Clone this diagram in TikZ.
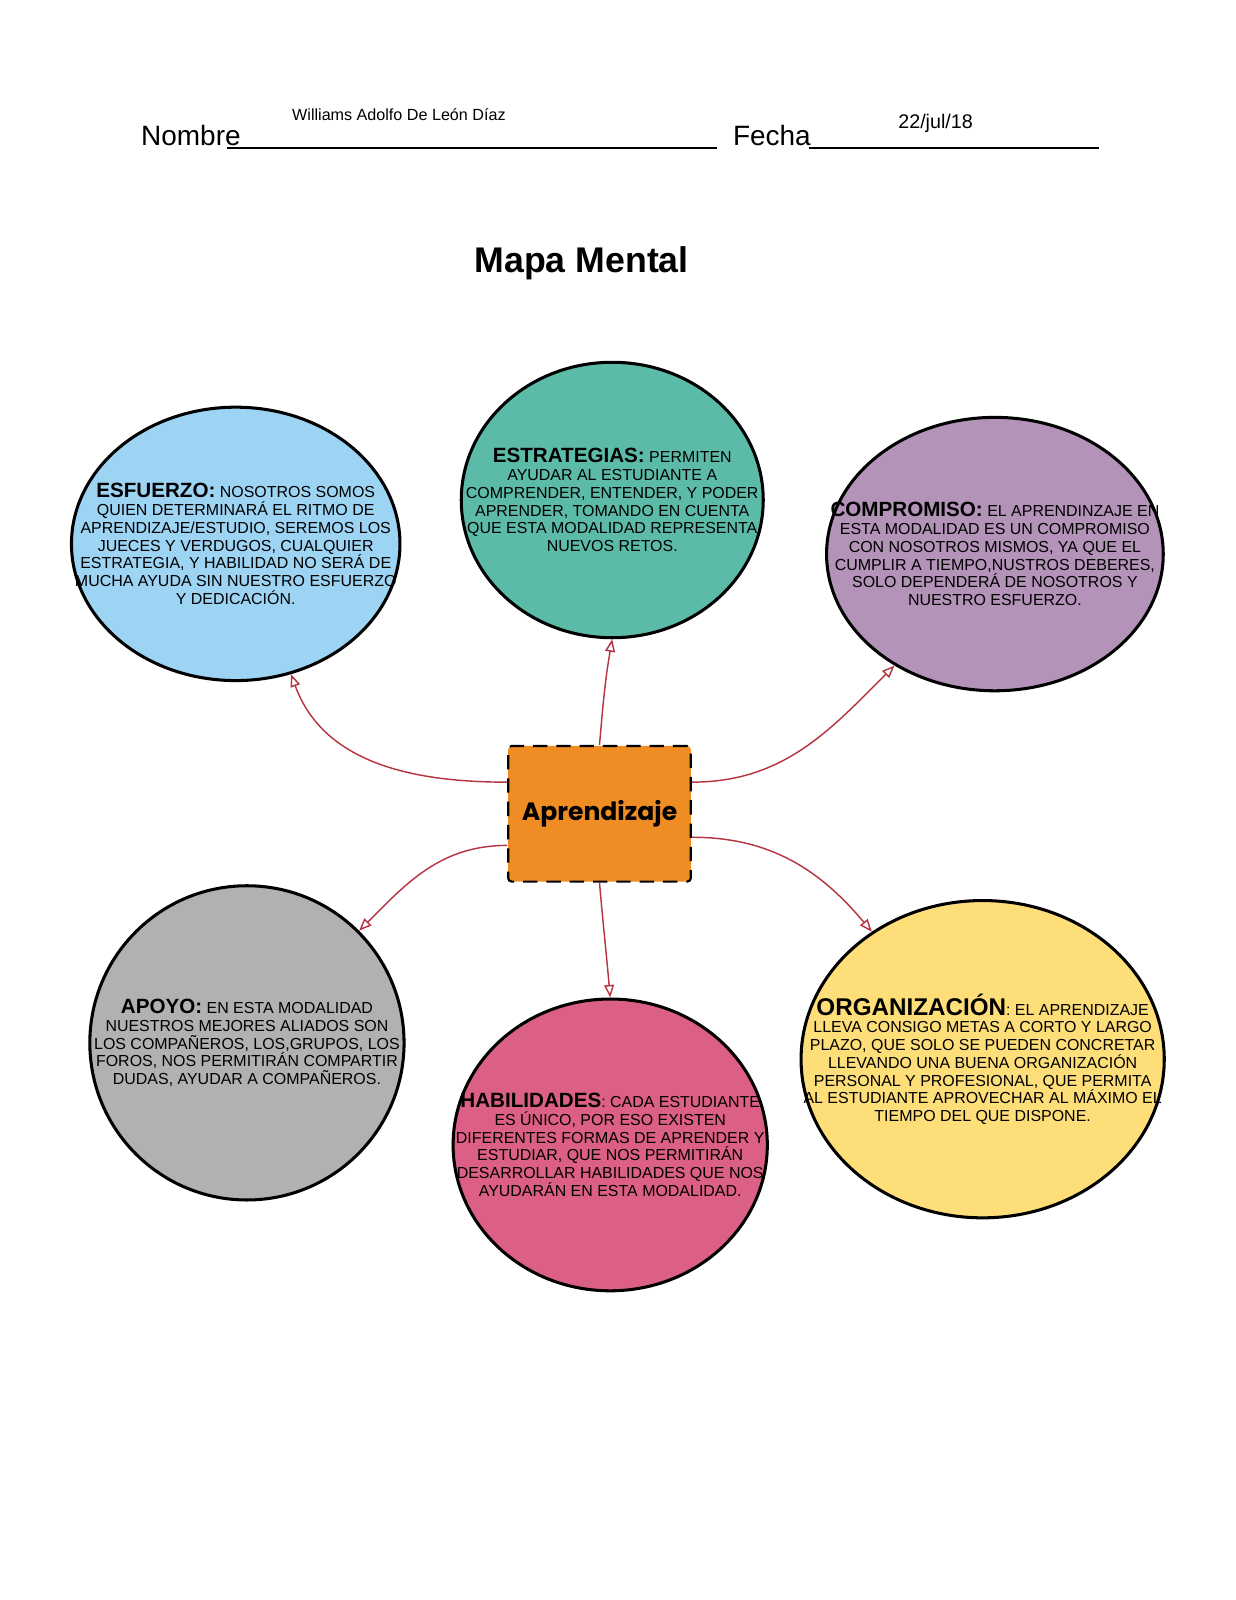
\documentclass[tikz,border=0pt]{standalone}
\usepackage{fontspec}
\setmainfont{Liberation Sans}
\newfontfamily\boxfont{Poppins}
\usetikzlibrary{arrows.meta,shapes.geometric}
\definecolor{sky}{HTML}{9DD3F3}
\definecolor{sea}{HTML}{5CBBA8}
\definecolor{lilac}{HTML}{B393B8}
\definecolor{stone}{HTML}{B1B1B1}
\definecolor{rose}{HTML}{DC5F85}
\definecolor{butter}{HTML}{FEDE78}
\definecolor{amber}{HTML}{EF8C23}
\definecolor{wire}{HTML}{B63441}
\newcommand\bubblehead[1]{{\fontsize{11.5}{11.5}\selectfont\bfseries #1}}

\begin{document}
\begin{tikzpicture}[x=0.02cm,y=-0.02cm,
  bubble/.style={ellipse,draw=black,line width=1.7pt,inner sep=0pt},
  blurb/.style={align=center,font=\fontsize{8.9}{9.9}\selectfont,inner sep=0pt},
  header/.style={anchor=base west,inner sep=0pt},
  link/.style={wire,line width=0.8pt,-{Triangle[open,length=7pt,width=5.5pt]}}]
  \useasboundingbox (0,0) rectangle (1211,1568);
  \fill[white] (0,0) rectangle (1211,1568);
  \node[header,font=\fontsize{15.6}{15.6}\selectfont] (nombre) at (138,143) {Nombre};
  \node[header,font=\fontsize{15.6}{15.6}\selectfont] (fecha) at (718,143) {Fecha};
  \draw[line width=0.8pt] (222,145) -- (703,145);
  \draw[line width=0.8pt] (793,145) -- (1077,145);
  \node[header,font=\fontsize{9}{9}\selectfont] (alumno) at (286,118) {Williams Adolfo De León Díaz};
  \node[header,font=\fontsize{11}{11}\selectfont] (dia) at (880,126) {22/jul/18};
  \node[font=\fontsize{19.9}{19.9}\selectfont\bfseries] (titulo) at (570,258) {Mapa Mental};

  \node[bubble,fill=sky,minimum width=6.44cm,minimum height=5.36cm] (esf) at (231,533) {};
  \node[bubble,fill=sea,minimum width=5.92cm,minimum height=5.40cm] (str) at (600,490) {};
  \node[bubble,fill=lilac,minimum width=6.60cm,minimum height=5.36cm] (com) at (975,543) {};
  \node[bubble,fill=stone,minimum width=6.16cm,minimum height=6.16cm] (apo) at (242,1022) {};
  \node[bubble,fill=rose,minimum width=6.16cm,minimum height=5.72cm] (hab) at (598,1122) {};
  \node[bubble,fill=butter,minimum width=7.12cm,minimum height=6.22cm] (org) at (963,1038) {};

  \node[blurb] (esftext) at (esf) {\bubblehead{ESFUERZO:} NOSOTROS SOMOS\\QUIEN DETERMINARÁ EL RITMO DE\\APRENDIZAJE/ESTUDIO, SEREMOS LOS\\JUECES Y VERDUGOS, CUALQUIER\\ESTRATEGIA, Y HABILIDAD NO SERÁ DE\\MUCHA AYUDA SIN NUESTRO ESFUERZO\\Y DEDICACIÓN.};
  \node[blurb] (strtext) at (str) {\bubblehead{ESTRATEGIAS:} PERMITEN\\AYUDAR AL ESTUDIANTE A\\COMPRENDER, ENTENDER, Y PODER\\APRENDER, TOMANDO EN CUENTA\\QUE ESTA MODALIDAD REPRESENTA\\NUEVOS RETOS.};
  \node[blurb] (comtext) at (com) {\bubblehead{COMPROMISO:} EL APRENDINZAJE EN\\ESTA MODALIDAD ES UN COMPROMISO\\CON NOSOTROS MISMOS, YA QUE EL\\CUMPLIR A TIEMPO,NUSTROS DEBERES,\\SOLO DEPENDERÁ DE NOSOTROS Y\\NUESTRO ESFUERZO.};
  \node[blurb] (apotext) at (apo) {\bubblehead{APOYO:} EN ESTA MODALIDAD\\NUESTROS MEJORES ALIADOS SON\\LOS COMPAÑEROS, LOS,GRUPOS, LOS\\FOROS, NOS PERMITIRÁN COMPARTIR\\DUDAS, AYUDAR A COMPAÑEROS.};
  \node[blurb] (habtext) at (hab) {\bubblehead{HABILIDADES}: CADA ESTUDIANTE\\ES ÚNICO, POR ESO EXISTEN\\DIFERENTES FORMAS DE APRENDER Y\\ESTUDIAR, QUE NOS PERMITIRÁN\\DESARROLLAR HABILIDADES QUE NOS\\AYUDARÁN EN ESTA MODALIDAD.};
  \node[blurb] (orgtext) at (org) {{\fontsize{13.5}{13.5}\selectfont\bfseries ORGANIZACIÓN}: EL APRENDIZAJE\\LLEVA CONSIGO METAS A CORTO Y LARGO\\PLAZO, QUE SOLO SE PUEDEN CONCRETAR\\LLEVANDO UNA BUENA ORGANIZACIÓN\\PERSONAL Y PROFESIONAL, QUE PERMITA\\AL ESTUDIANTE APROVECHAR AL MÁXIMO EL\\TIEMPO DEL QUE DISPONE.};

  \node[draw=black,fill=amber,line width=1.2pt,dash pattern=on 8pt off 5pt,rounded corners=2pt,
    minimum width=3.58cm,minimum height=2.66cm,font=\boxfont\bfseries\fontsize{14}{14}\selectfont] (core) at (587.5,797.5) {Aprendizaje};

  \draw[link] ([yshift=0.62cm]core.west) to[out=180,in=-70] (esf.293);
  \draw[link] (core.north) to[out=85,in=-100] (str.south);
  \draw[link] ([yshift=0.62cm]core.east) to[out=0,in=225] (com.228);
  \draw[link] ([yshift=-0.62cm]core.west) to[out=180,in=45] (apo.45);
  \draw[link] (core.south) to[out=-85,in=95] (hab.north);
  \draw[link] ([yshift=-0.46cm]core.east) to[out=0,in=130] (org.131);
\end{tikzpicture}
\end{document}
